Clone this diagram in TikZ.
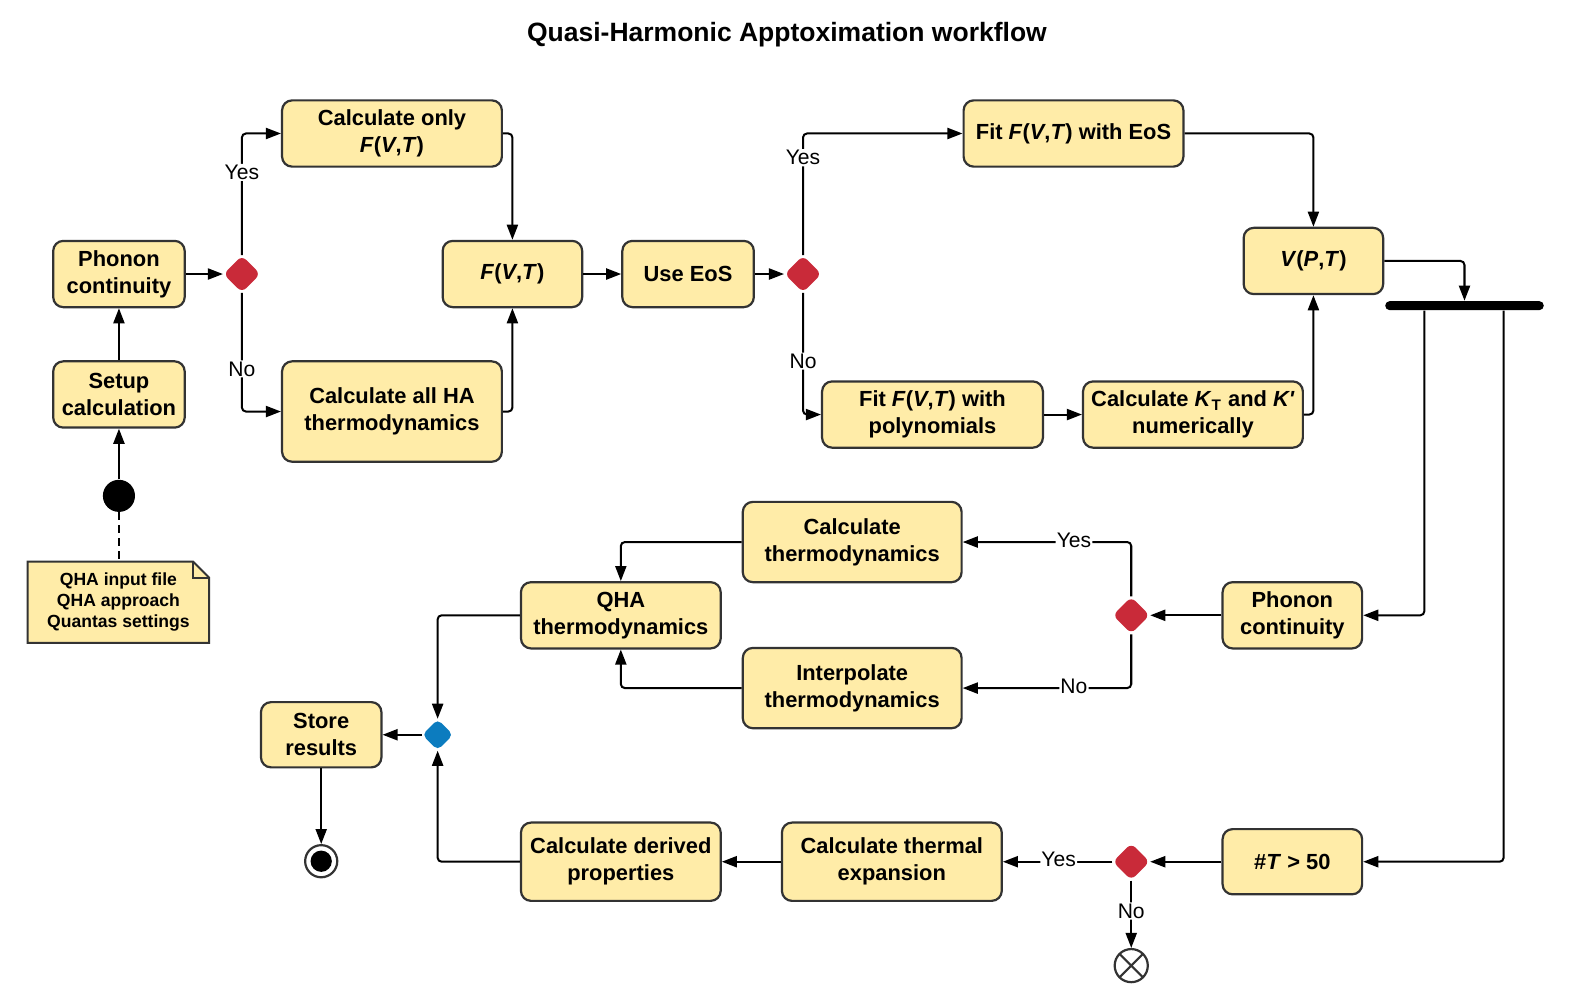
\documentclass[tikz,border=0pt]{standalone}
\usepackage{fontspec}
\setmainfont{Liberation Sans}
\usetikzlibrary{shapes.geometric,arrows.meta,backgrounds}
\definecolor{boxfill}{HTML}{FFECA8}
\definecolor{boxline}{HTML}{333333}
\definecolor{decred}{HTML}{C92A39}
\definecolor{mergeblue}{HTML}{0C7CBF}
\begin{document}
\begin{tikzpicture}[x=0.5pt,y=-0.5pt,
  box/.style={draw=boxline, line width=1.1pt, fill=boxfill, rounded corners=5pt, align=center, inner sep=2pt, font=\bfseries\fontsize{10.9}{13.4}\selectfont},
  dec/.style={diamond, aspect=1, fill=decred, minimum size=18.5pt, inner sep=0pt, rounded corners=3pt},
  arr/.style={line width=1pt, -{Triangle[length=7.5pt,width=5.5pt]}, rounded corners=2pt},
  lbl/.style={fill=white, inner sep=0.6pt, font=\fontsize{10.5}{12.5}\selectfont},
]
\useasboundingbox (0,0) rectangle (1569.1,1004.2);
\node[font=\bfseries\fontsize{13.2}{16}\selectfont] (title) at (784,35) {Quasi-Harmonic Apptoximation workflow};

% left column
\node[box, minimum width=65.5pt, minimum height=33pt] (phon1) at (118.5,273) {Phonon\\continuity};
\node[box, minimum width=65.5pt, minimum height=33pt] (setup) at (118.5,393) {Setup\\calculation};
\node[circle, fill=black, minimum size=16pt, inner sep=0pt] (start) at (118.5,494) {};
\node[minimum width=90pt, minimum height=40pt, align=center, inner sep=0pt, font=\bfseries\fontsize{8.75}{10.5}\selectfont] (note) at (118,600) {QHA input file\\QHA approach\\Quantas settings};
\begin{scope}[on background layer]
\draw[draw=boxline, line width=1pt, fill=boxfill] (note.south west) -- (note.north west) -- ([xshift=-8pt]note.north east) -- ([yshift=-8pt]note.north east) -- (note.south east) -- cycle;
\draw[boxline, line width=1pt] ([xshift=-8pt]note.north east) |- ([yshift=-8pt]note.north east);
\end{scope}

% top row
\node[dec] (d1) at (241,273) {};
\node[box, minimum width=109.5pt, minimum height=33pt] (calconly) at (390.5,133) {Calculate only\\\textit{F}(\textit{V},\textit{T})};
\node[box, minimum width=109.5pt, minimum height=50pt] (calcall) at (390.5,410) {Calculate all HA\\thermodynamics};
\node[box, minimum width=69.5pt, minimum height=33pt] (fvt) at (510.5,273) {\textit{F}(\textit{V},\textit{T})};
\node[box, minimum width=65.5pt, minimum height=33pt] (useeos) at (685.5,273) {Use EoS};
\node[dec] (d2) at (800,273) {};
\node[box, minimum width=109.5pt, minimum height=33pt] (fiteos) at (1069.5,133) {Fit \textit{F}(\textit{V},\textit{T}) with EoS};
\node[box, minimum width=110pt, minimum height=33pt] (fitpoly) at (929,413) {Fit \textit{F}(\textit{V},\textit{T}) with\\polynomials};
\node[box, minimum width=109.5pt, minimum height=33pt] (calck) at (1188.5,413) {Calculate \textit{K}\textsubscript{T} and \textit{K\textquotesingle}\\numerically};
\node[box, minimum width=69.5pt, minimum height=33pt] (vpt) at (1308.5,260) {\textit{V}(\textit{P},\textit{T})};
\node[fill=black, rounded corners=2.25pt, minimum width=79pt, minimum height=4.5pt, inner sep=0pt] (fork) at (1459,304.5) {};

% middle row
\node[box, minimum width=69.5pt, minimum height=33pt] (phon2) at (1287.5,613) {Phonon\\continuity};
\node[dec] (d3) at (1127,613) {};
\node[box, minimum width=109pt, minimum height=40pt] (calcthermo) at (849,540) {Calculate\\thermodynamics};
\node[box, minimum width=109pt, minimum height=40pt] (interp) at (849,685.5) {Interpolate\\thermodynamics};
\node[box, minimum width=99.5pt, minimum height=33pt] (qha) at (618.5,613) {QHA\\thermodynamics};
\node[diamond, aspect=1, fill=mergeblue, minimum size=15.5pt, inner sep=0pt, rounded corners=2.5pt] (merge) at (436,732) {};
\node[box, minimum width=60pt, minimum height=32.5pt] (store) at (320,732) {Store\\results};
\node[circle, draw=boxline, line width=1.1pt, fill=white, minimum size=16pt, inner sep=0pt, path picture={\fill[black] (path picture bounding box.center) circle (5.3pt);}] (endn) at (320,858) {};

% bottom row
\node[box, minimum width=99.5pt, minimum height=39pt] (derived) at (618.5,858.5) {Calculate derived\\properties};
\node[box, minimum width=109.5pt, minimum height=39pt] (thermexp) at (888.5,858.5) {Calculate thermal\\expansion};
\node[dec] (d4) at (1127,858.5) {};
\node[box, minimum width=69.5pt, minimum height=32.5pt] (t50) at (1287.5,858.5) {\#\textit{T} > 50};
\node[circle, draw=boxline, line width=1.1pt, fill=white, minimum size=16.5pt, inner sep=0pt, path picture={\draw[boxline, line width=1.1pt] (path picture bounding box.north west) -- (path picture bounding box.south east) (path picture bounding box.north east) -- (path picture bounding box.south west);}] (final) at (1127,962) {};

% connectors
\draw[arr] (start.north) -- (setup.south);
\draw[arr] (setup.north) -- (phon1.south);
\draw[line width=1pt, dash pattern=on 4pt off 2.5pt] (start.south) -- (note.north -| start.south);
\draw[arr] (phon1.east) -- (d1.west);
\draw[arr] (d1.north) |- node[lbl, pos=0.34] {Yes} (calconly.west);
\draw[arr] (d1.south) |- node[lbl, pos=0.32] {No} (calcall.west);
\draw[arr] (calconly.east) -| (fvt.north);
\draw[arr] (calcall.east) -| (fvt.south);
\draw[arr] (fvt.east) -- (useeos.west);
\draw[arr] (useeos.east) -- (d2.west);
\draw[arr] (d2.north) |- node[lbl, pos=0.4] {Yes} (fiteos.west);
\draw[arr] (d2.south) |- node[lbl, pos=0.28] {No} (fitpoly.west);
\draw[arr] (fiteos.east) -| (vpt.north);
\draw[arr] (fitpoly.east) -- (calck.west);
\draw[arr] (calck.east) -| (vpt.south);
\draw[arr] (vpt.east) -| (fork.north);
\draw[arr] ([xshift=-20pt]fork.south) |- (phon2.east);
\draw[arr] ([xshift=19.5pt]fork.south) |- (t50.east);
\draw[arr] (phon2.west) -- (d3.east);
\draw[arr] (d3.north) |- node[lbl, pos=0.67, yshift=1pt] {Yes} (calcthermo.east);
\draw[arr] (d3.south) |- node[lbl, pos=0.67, yshift=1pt] {No} (interp.east);
\draw[arr] (calcthermo.west) -| (qha.north);
\draw[arr] (interp.west) -| (qha.south);
\draw[arr] (qha.west) -| (merge.north);
\draw[arr] (derived.west) -| (merge.south);
\draw[arr] (merge.west) -- (store.east);
\draw[arr] (store.south) -- (endn.north);
\draw[arr] (t50.west) -- (d4.east);
\draw[arr] (d4.west) -- node[lbl, pos=0.49, yshift=1pt] {Yes} (thermexp.east);
\draw[arr] (thermexp.west) -- (derived.east);
\draw[arr] (d4.south) -- node[lbl, pos=0.45] {No} (final.north);
\end{tikzpicture}
\end{document}
